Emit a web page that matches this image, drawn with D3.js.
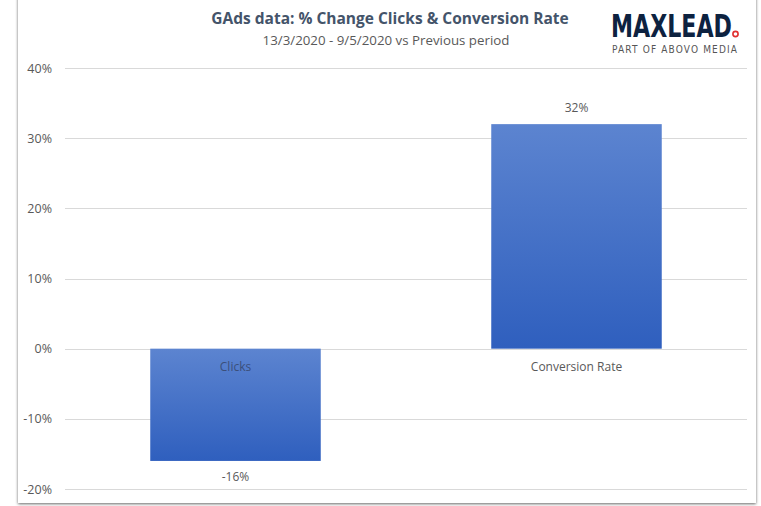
<!DOCTYPE html>
<html><head><meta charset="utf-8">
<script src="https://cdn.jsdelivr.net/npm/d3@7"></script>
<style>body{margin:0;background:#fff;} svg{display:block;}</style>
</head><body>
<script>
const categories = ["Clicks", "Conversion Rate"];
const values = [-16, 32];
const tickValues = [40, 30, 20, 10, 0, -10, -20];
const title = "GAds data: % Change Clicks & Conversion Rate";
const subtitle = "13/3/2020 - 9/5/2020 vs Previous period";

const W = 761, H = 506;
const svg = d3.select("body").append("svg").attr("width", W).attr("height", H);
const defs = svg.append("defs");
const grad = defs.append("linearGradient").attr("id","bg").attr("x1",0).attr("y1",0).attr("x2",0).attr("y2",1);
grad.append("stop").attr("offset","0%").attr("stop-color","#5c84d0");
grad.append("stop").attr("offset","100%").attr("stop-color","#2f5fbe");
const flt = defs.append("filter").attr("id","sh").attr("x","-5%").attr("y","-5%").attr("width","110%").attr("height","110%");
flt.append("feDropShadow").attr("dx",0).attr("dy",1).attr("stdDeviation",1.5).attr("flood-color","#000").attr("flood-opacity",0.6);

// frame
svg.append("rect").attr("x",18).attr("y",-10).attr("width",738).attr("height",513)
  .attr("fill","#fff").attr("filter","url(#sh)");

const y = d3.scaleLinear().domain([-20, 40]).range([489, 68]);
const x = d3.scaleBand().domain(categories).range([65, 747]).paddingInner(0.5).paddingOuter(0.25);

// gridlines
svg.append("g").selectAll("line").data(tickValues).join("line")
  .attr("x1",65).attr("x2",747).attr("y1",d=>Math.round(y(d))+0.5).attr("y2",d=>Math.round(y(d))+0.5)
  .attr("stroke","#d9d9d9").attr("stroke-width",1);

// axis labels
const axis = d3.axisLeft(y).tickValues(tickValues).tickFormat(d=>d+"%").tickSize(0).tickPadding(0);
const ag = svg.append("g").attr("transform","translate(52,0)").call(axis);
ag.select(".domain").remove();
ag.selectAll("text").attr("font-family","'Open Sans', sans-serif").attr("font-size",12.5).attr("fill","#595959");

// bars
svg.append("g").selectAll("rect").data(values).join("rect")
  .attr("x",(d,i)=>x(categories[i])).attr("width",x.bandwidth())
  .attr("y",d=>y(Math.max(0,d))).attr("height",d=>Math.abs(y(d)-y(0)))
  .attr("fill","url(#bg)");

// value labels
svg.append("g").selectAll("text").data(values).join("text")
  .attr("x",(d,i)=>x(categories[i])+x.bandwidth()/2)
  .attr("y",d=> d>=0 ? y(d)-12 : y(d)+20)
  .attr("text-anchor","middle").attr("font-family","'Open Sans', sans-serif").attr("font-size",12).attr("fill","#595959")
  .text(d=>d+"%");

// category labels
svg.append("g").selectAll("text").data(categories).join("text")
  .attr("x",d=>x(d)+x.bandwidth()/2).attr("y",y(0)+22)
  .attr("text-anchor","middle").attr("font-family","'Open Sans', sans-serif").attr("font-size",12)
  .attr("fill",(d,i)=> values[i]<0 ? "#3b4f7a" : "#595959")
  .text(d=>d);

// title
svg.append("text").attr("x",390).attr("y",24).attr("text-anchor","middle")
  .attr("font-family","'Open Sans', sans-serif").attr("font-weight","bold").attr("font-size",15.5).attr("fill","#44546a").text(title);
svg.append("text").attr("x",386).attr("y",45).attr("text-anchor","middle")
  .attr("font-family","'Open Sans', sans-serif").attr("font-size",13.3).attr("fill","#595959").text(subtitle);

// logo
const logo = svg.append("text").attr("x",0).attr("y",0).attr("font-family","'DejaVu Sans Condensed', 'DejaVu Sans', sans-serif")
  .attr("font-weight","bold").attr("font-size",32).attr("fill","#0d2240").text("MAXLEAD");
const lw = logo.node().getComputedTextLength() || 140;
logo.attr("transform",`translate(611,37) scale(${121/lw},1)`);
svg.append("circle").attr("cx",735.5).attr("cy",34).attr("r",2.6).attr("fill","none").attr("stroke","#e03030").attr("stroke-width",1.6);
svg.append("text").attr("x",612).attr("y",53).attr("font-family","'DejaVu Sans Condensed', sans-serif")
  .attr("font-size",10).attr("fill","#555").attr("textLength",125).attr("lengthAdjust","spacing").text("PART OF ABOVO MEDIA");
</script>
</body></html>
